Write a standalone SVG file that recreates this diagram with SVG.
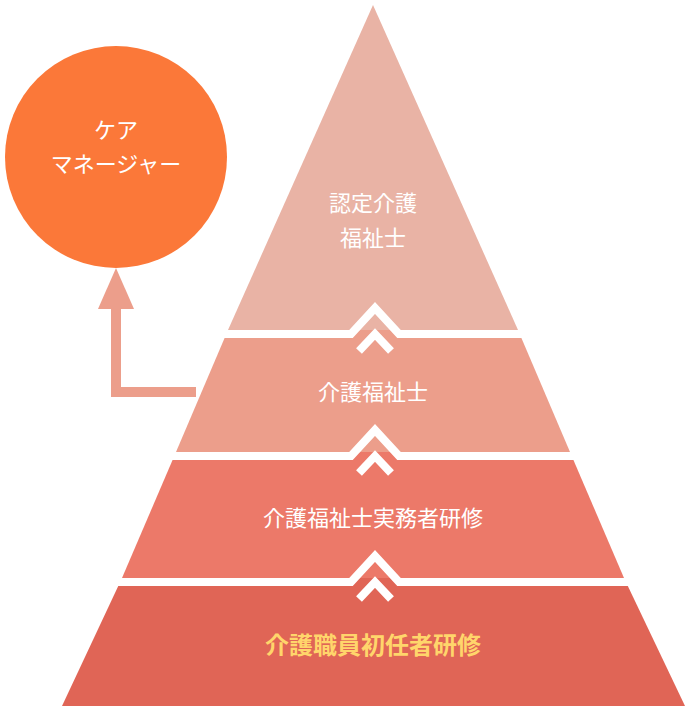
<svg xmlns="http://www.w3.org/2000/svg" width="694" height="710" viewBox="0 0 694 710">
<style>
text{font-family:"Noto Sans CJK JP",sans-serif;fill:#fff;text-anchor:middle}
.sep{fill:none;stroke:#fff;stroke-width:8}
</style>
<g id="pyramid">
<polygon points="373,5 518,330 228,330" fill="#E9B3A5"/>
<polygon points="228,330 518,330 570,452 176,452" fill="#EC9E8B"/>
<polygon points="176,452 570,452 624,578 122,578" fill="#EC7969"/>
<polygon points="122,578 624,578 685,706 62,706" fill="#E06556"/>
</g>
<g id="connectors">
<polyline class="sep" points="200,334 351,334 375,308 399,334 545,334"/>
<polyline class="sep" points="359,351 375,334 391,351"/>
<polyline class="sep" points="150,456 351,456 375,430 399,456 600,456"/>
<polyline class="sep" points="359,473 375,456 391,473"/>
<polyline class="sep" points="100,582 351,582 375,556 399,582 650,582"/>
<polyline class="sep" points="359,599 375,582 391,599"/>
<path d="M116,392 H196" stroke="#EC9E8B" stroke-width="10" fill="none"/>
<path d="M116,397 V305" stroke="#EC9E8B" stroke-width="10" fill="none"/>
<polygon points="116,268 134,309 98,309" fill="#EC9E8B"/>
</g>
<g id="care"><circle cx="116" cy="157" r="111" fill="#FB7839"/>
<text x="116" y="138" font-size="22">ケア</text>
<text x="116" y="172" font-size="22">マネージャー</text></g>
<g id="n1"><text x="373" y="211" font-size="22">認定介護</text><text x="373" y="246" font-size="22">福祉士</text></g>
<g id="n2"><text x="373" y="400" font-size="22">介護福祉士</text></g>
<g id="n3"><text x="373" y="526" font-size="22">介護福祉士実務者研修</text></g>
<g id="n4"><text x="373" y="654" font-size="24" font-weight="bold" style="fill:#FFD56B">介護職員初任者研修</text></g>
</svg>
